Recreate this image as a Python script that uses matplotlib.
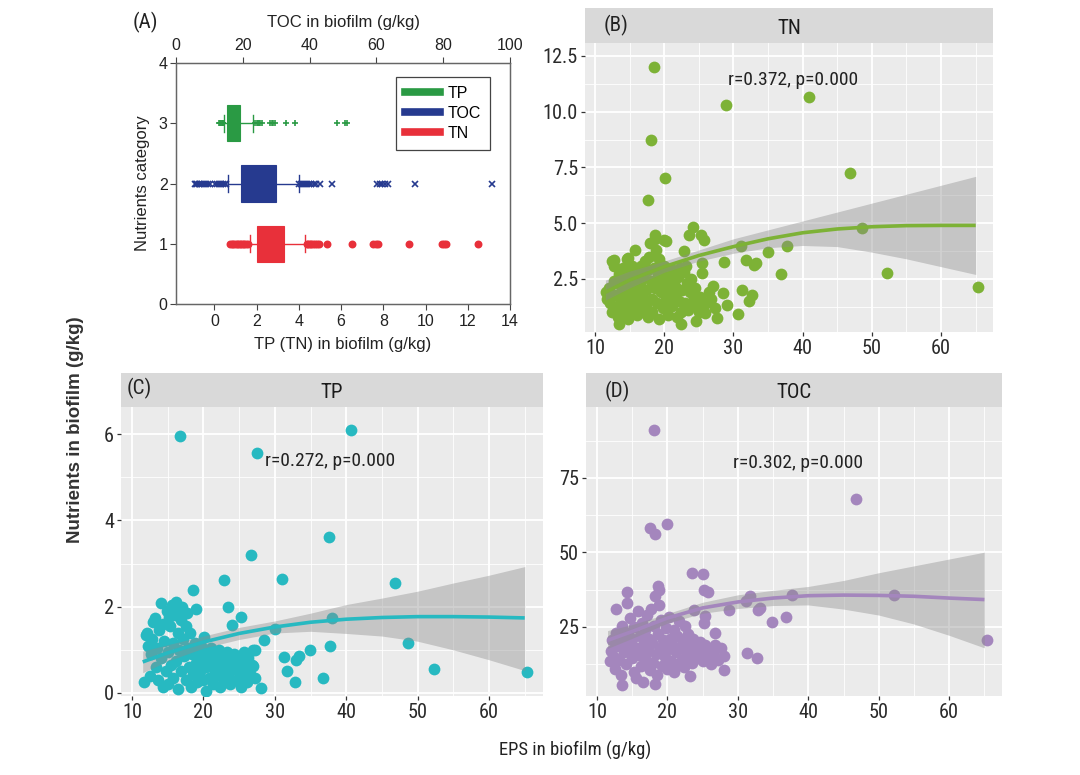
import matplotlib
matplotlib.use("Agg")
import matplotlib.pyplot as plt
from matplotlib import font_manager
from matplotlib.font_manager import FontProperties
from matplotlib.lines import Line2D

ARIAL = 'Liberation Sans'
plt.rcParams['font.family'] = [ARIAL, 'DejaVu Sans']

# look for a condensed sans font on the system
COND_PATH = None
_cands = []
for f in font_manager.fontManager.ttflist:
    low = (f.fname + ' ' + f.name).lower()
    if ('narrow' in low or 'condensed' in low) and 'bold' not in low and 'italic' not in low \
            and 'oblique' not in low and 'light' not in low and 'semi' not in low:
        _cands.append(f.fname)
for key in ['liberationsansnarrow', 'robotocondensed', 'opensans_condensed', 'opensanscondensed',
            'dejavusanscondensed', 'narrow', 'condensed']:
    hit = [c for c in _cands if key in c.lower().replace('-', '').replace(' ', '')]
    if hit:
        COND_PATH = sorted(hit, key=len)[0]
        break
SCALE = 1.12 if COND_PATH else 1.0


def fp(size):
    if COND_PATH:
        return FontProperties(fname=COND_PATH, size=size * SCALE)
    return FontProperties(family=ARIAL, size=size)


# ---------------- data ----------------
# Panel A box plot statistics (TP, TN in g/kg on bottom axis; TOC in g/kg on top axis)
categories = ['TN', 'TOC', 'TP']
cat_pos = [1, 2, 3]
tp_box = dict(q1=0.58, med=0.9, q3=1.22, whislo=0.47, whishi=1.85)
toc_box = dict(q1=19.6, med=24.5, q3=29.9, whislo=15.7, whishi=36.8)
tn_box = dict(q1=2.0, med=2.6, q3=3.31, whislo=1.69, whishi=4.31)
tp_fliers = [0.2, 0.25, 0.3, 0.35, 0.4, 0.43, 1.93, 2.0, 2.05, 2.1, 2.18, 2.24,
             2.64, 2.72, 2.8, 2.87, 3.39, 3.82, 5.79, 6.19, 6.3]
toc_fliers = [5.7, 6.0, 6.4, 6.8, 7.2, 7.7, 8.3, 9.0, 9.6, 10.1, 11.7, 12.2, 12.8,
              13.4, 14.0, 14.6, 15.1, 36.8, 37.4, 38.0, 38.6, 39.1, 39.8, 40.5,
              41.2, 42.0, 43.1, 46.6, 60.1, 61.0, 61.8, 62.7, 63.6, 71.5, 94.7]
tn_fliers = [0.74, 0.82, 0.9, 0.98, 1.05, 1.12, 1.2, 1.28, 1.35, 1.42, 1.5, 1.58,
             4.37, 4.45, 4.52, 4.6, 4.68, 4.75, 4.85, 4.95, 5.32, 6.5, 7.53, 7.65,
             7.77, 9.22, 10.76, 10.87, 10.97, 12.5]

# Panel B: (EPS, TN) samples
tn_samples = [
    (18.5, 12.02), (28.9, 10.3), (40.9, 10.65), (18.1, 8.75), (20.1, 7.04), (17.6, 6.05),
    (46.85, 7.23), (52.2, 2.77), (65.3, 2.14), (37.7, 3.99), (34.95, 3.69), (36.9, 2.74),
    (31.8, 3.36), (33.3, 3.21), (33.0, 3.14), (31.1, 3.96), (31.3, 2.02), (32.7, 1.76),
    (32.2, 1.53), (30.7, 0.91), (28.7, 3.26), (28.5, 1.85), (29.1, 1.31), (27.6, 0.76),
    (27.1, 2.2), (25.9, 0.98), (24.6, 0.61), (25.4, 3.21), (25.4, 2.77), (25.3, 4.48),
    (25.7, 4.26), (23.6, 4.48), (24.1, 4.85), (22.9, 3.74), (22.4, 0.46), (20.0, 4.26),
    (18.7, 4.48), (15.8, 3.81), (14.7, 3.44), (12.7, 3.36), (12.7, 3.06), (13.4, 0.46),
    (48.6, 4.8),
    (11.6, 1.9), (11.8, 1.6), (12.0, 2.1), (12.2, 1.4), (12.4, 1.0), (12.5, 3.3),
    (12.8, 2.4), (13.0, 1.8), (13.1, 1.2), (13.3, 0.8), (13.5, 2.7), (13.7, 2.2),
    (13.8, 1.5), (14.0, 3.0), (14.1, 1.0), (14.2, 2.5), (14.4, 1.9), (14.6, 3.4),
    (14.7, 1.3), (14.8, 0.7), (15.0, 2.8), (15.1, 2.2), (15.2, 1.6), (15.4, 3.1),
    (15.5, 1.1), (15.6, 2.5), (15.9, 1.9), (16.0, 0.9), (16.2, 2.9), (16.3, 1.4),
    (16.5, 2.3), (16.6, 3.1), (16.8, 1.7), (16.9, 1.0), (17.0, 2.6), (17.2, 3.3),
    (17.3, 2.0), (17.4, 1.3), (17.6, 0.8), (17.7, 2.9), (17.8, 3.5), (18.0, 4.1),
    (18.1, 2.4), (18.2, 1.6), (18.3, 1.0), (18.5, 3.0), (18.6, 4.3), (18.7, 2.1),
    (18.8, 3.8), (19.0, 1.4), (19.1, 2.7), (19.2, 0.7), (19.3, 3.4), (19.5, 1.9),
    (19.6, 2.5), (19.8, 1.2), (19.9, 3.1), (20.0, 2.2), (20.2, 1.6), (20.3, 4.2),
    (20.4, 2.8), (20.6, 0.9), (20.8, 1.9), (21.0, 2.5), (21.1, 1.3), (21.3, 2.9),
    (21.5, 1.7), (21.6, 2.2), (21.8, 0.8), (22.0, 2.6), (22.1, 1.5), (22.3, 3.0),
    (22.4, 1.0), (22.6, 2.0), (22.8, 2.8), (23.0, 1.4), (23.1, 3.1), (23.3, 2.3),
    (23.5, 1.1), (23.7, 1.9), (23.9, 2.5), (24.1, 1.5), (24.3, 1.8), (24.5, 2.1),
    (24.7, 1.3), (25.0, 1.0), (25.2, 1.7), (25.6, 1.3), (26.0, 1.4), (26.4, 1.9),
    (26.8, 1.6), (27.3, 1.2), (16.1, 2.0), (17.1, 1.5), (19.4, 2.3), (20.9, 2.0),
]

# Panel C: (EPS, TP) samples
tp_samples = [
    (16.67, 5.96), (40.7, 6.09), (27.5, 5.56), (37.6, 3.61), (26.65, 3.19), (31.0, 2.64),
    (22.9, 2.62), (46.85, 2.56), (18.5, 2.39), (23.5, 1.99), (19.0, 1.95), (25.3, 1.76),
    (38.0, 1.74), (24.0, 1.58), (30.05, 1.48), (28.5, 1.22), (48.6, 1.16), (37.7, 1.10),
    (34.9, 1.0), (27.2, 0.99), (31.3, 0.83), (33.4, 0.85), (32.9, 0.76), (31.7, 0.52),
    (52.3, 0.56), (65.3, 0.48), (36.8, 0.35), (32.8, 0.25), (28.0, 0.12), (27.0, 0.63),
    (11.7, 0.25), (12.5, 0.40), (12.1, 1.39), (13.2, 1.74), (14.0, 2.08),
    (12.0, 1.35), (12.2, 1.1), (12.6, 0.9), (12.8, 1.25), (13.0, 1.65), (13.3, 0.6),
    (13.5, 1.05), (13.7, 0.3), (13.8, 1.45), (14.1, 0.8), (14.3, 0.15), (14.4, 1.6),
    (14.5, 1.2), (14.7, 0.5), (14.9, 1.9), (15.0, 0.95), (15.1, 0.2), (15.3, 1.55),
    (15.4, 0.65), (15.6, 2.05), (15.7, 1.15), (15.8, 0.35), (16.0, 1.8), (16.1, 0.75),
    (16.2, 2.1), (16.4, 1.4), (16.5, 0.1), (16.6, 1.0), (16.8, 1.7), (16.9, 0.5),
    (17.0, 2.0), (17.2, 1.25), (17.3, 0.85), (17.5, 1.55), (17.6, 0.3), (17.7, 1.85),
    (17.9, 1.05), (18.0, 0.6), (18.1, 1.4), (18.3, 0.15), (18.4, 0.9), (18.6, 0.45),
    (18.8, 1.15), (19.0, 0.7), (19.1, 0.25), (19.3, 0.95), (19.5, 0.5), (19.7, 1.1),
    (19.9, 0.3), (20.0, 0.8), (20.1, 1.3), (20.3, 0.05), (20.4, 0.6), (20.6, 0.95),
    (20.8, 0.35), (21.0, 0.75), (21.1, 1.05), (21.3, 0.2), (21.5, 0.55), (21.6, 0.9),
    (21.8, 0.4), (22.0, 0.7), (22.2, 1.0), (22.3, 0.15), (22.5, 0.5), (22.7, 0.85),
    (22.9, 0.3), (23.1, 0.65), (23.3, 0.95), (23.5, 0.45), (23.7, 0.2), (23.9, 0.75),
    (24.1, 0.55), (24.3, 0.9), (24.5, 0.3), (24.7, 0.6), (24.9, 0.85), (25.1, 0.4),
    (25.3, 0.15), (25.5, 0.7), (25.7, 0.95), (25.9, 0.5), (26.1, 0.25), (26.3, 0.8),
    (26.5, 0.45), (26.8, 0.65), (27.2, 0.35), (27.0, 1.0), (15.2, 1.75), (16.3, 1.9),
]

# Panel D: (EPS, TOC) samples
toc_samples = [
    (18.1, 91.1), (46.8, 68.0), (20.0, 59.6), (17.5, 58.2), (18.2, 56.3), (23.5, 43.1),
    (25.0, 42.9), (18.6, 38.6), (18.8, 37.5), (25.2, 37.5), (25.7, 36.6), (31.7, 35.5),
    (31.1, 33.6), (37.65, 35.6), (52.2, 35.6), (33.2, 31.4), (32.8, 30.6), (28.7, 30.6),
    (34.9, 26.7), (36.8, 28.4), (65.3, 20.7), (31.3, 16.3), (32.7, 14.6), (28.0, 15.2),
    (28.0, 10.7), (26.7, 23.0), (23.2, 8.7), (18.2, 5.9), (13.6, 5.4), (12.7, 31.0),
    (14.3, 36.6), (25.4, 28.6), (25.2, 26.3), (23.8, 30.8),
    (11.8, 13.5), (12.0, 17.0), (12.2, 20.5), (12.4, 15.0), (12.6, 11.0), (12.7, 23.0),
    (12.9, 18.5), (13.1, 14.0), (13.3, 21.5), (13.4, 9.0), (13.6, 25.5), (13.8, 16.5),
    (14.0, 19.5), (14.1, 12.5), (14.3, 33.0), (14.4, 23.0), (14.6, 17.5), (14.7, 28.0),
    (14.9, 14.5), (15.0, 21.0), (15.2, 10.0), (15.3, 25.0), (15.5, 18.0), (15.6, 8.0),
    (15.8, 30.5), (15.9, 15.5), (16.1, 22.0), (16.2, 12.0), (16.4, 26.5), (16.5, 19.0),
    (16.6, 6.5), (16.8, 24.0), (16.9, 14.0), (17.1, 29.0), (17.2, 17.0), (17.4, 21.0),
    (17.5, 10.5), (17.7, 31.0), (17.8, 19.5), (18.0, 13.0), (18.1, 25.5), (18.3, 35.5),
    (18.4, 16.0), (18.5, 9.0), (18.7, 22.5), (18.8, 32.5), (19.0, 18.0), (19.1, 27.5),
    (19.3, 12.0), (19.4, 20.5), (19.6, 15.0), (19.8, 24.5), (19.9, 11.0), (20.1, 17.5),
    (20.2, 28.5), (20.4, 21.0), (20.5, 13.5), (20.7, 19.0), (20.9, 24.0), (21.0, 10.0),
    (21.2, 16.5), (21.4, 22.0), (21.5, 12.5), (21.7, 27.0), (21.9, 18.5), (22.0, 14.0),
    (22.2, 20.5), (22.4, 11.5), (22.5, 25.5), (22.7, 17.0), (22.9, 22.5), (23.1, 15.5),
    (23.3, 19.5), (23.5, 13.0), (23.7, 21.0), (23.9, 16.0), (24.1, 18.0), (24.3, 14.5),
    (24.6, 20.0), (24.8, 16.5), (25.0, 13.5), (25.3, 19.0), (25.6, 15.0), (25.9, 17.5),
    (26.2, 12.5), (26.5, 16.0), (26.8, 19.0), (27.2, 14.0), (27.6, 18.0),
]

# Smooth fits
fit_eps = [11.5, 15, 20, 25, 30, 35, 40, 45, 50, 55, 60, 65]
tn_fit = [1.9, 2.45, 3.05, 3.55, 3.95, 4.3, 4.57, 4.74, 4.84, 4.89, 4.9, 4.9]
tn_hi = [2.45, 2.85, 3.3, 3.8, 4.3, 4.7, 5.1, 5.5, 5.9, 6.3, 6.7, 7.1]
tn_lo = [1.55, 2.1, 2.8, 3.3, 3.65, 3.9, 4.0, 3.95, 3.7, 3.4, 3.05, 2.7]
tp_fit = [0.72, 0.93, 1.18, 1.38, 1.53, 1.64, 1.71, 1.75, 1.77, 1.77, 1.76, 1.74]
tp_hi = [0.97, 1.12, 1.32, 1.52, 1.67, 1.85, 2.05, 2.2, 2.36, 2.55, 2.73, 2.93]
tp_lo = [0.47, 0.74, 1.04, 1.24, 1.39, 1.43, 1.38, 1.32, 1.2, 1.0, 0.77, 0.52]
toc_fit = [20.5, 23.5, 28.0, 31.4, 33.4, 34.7, 35.5, 35.7, 35.6, 35.3, 34.7, 34.2]
toc_hi = [23.8, 25.8, 29.5, 33.3, 35.8, 37.3, 38.6, 40.6, 43.2, 45.5, 47.8, 50.1]
toc_lo = [17.8, 21.2, 26.3, 29.6, 31.2, 32.2, 32.4, 31.0, 29.0, 26.0, 22.2, 18.0]

stats_text = ['r=0.372, p=0.000', 'r=0.272, p=0.000', 'r=0.302, p=0.000']

# ---------------- figure ----------------
W, H = 1080, 775
fig = plt.figure(figsize=(W / 100, H / 100), dpi=100)


def rect(x0, y0, x1, y1):
    return [x0 / W, 1 - y1 / H, (x1 - x0) / W, (y1 - y0) / H]


# ---- Panel A ----
C_TP, C_TOC, C_TN = '#2a9a44', '#263a8f', '#e8303a'
axA = fig.add_axes(rect(176, 63, 510, 304))
axA.set_xlim(-1.815, 14)
axA.set_ylim(0, 4)
axT = axA.twiny()
axT.set_xlim(0, 100)


def draw_box(ax, st, pos, fl, color, marker, ms):
    s = dict(st)
    s['fliers'] = fl
    ax.bxp([s], positions=[pos], vert=False, widths=0.6, capwidths=0.28,
           patch_artist=True, showfliers=True,
           boxprops=dict(facecolor=color, edgecolor=color, linewidth=0.8),
           medianprops=dict(color=color, linewidth=0.8),
           whiskerprops=dict(color=color, linewidth=1.0),
           capprops=dict(color=color, linewidth=1.0),
           flierprops=dict(marker=marker, markerfacecolor=color, markeredgecolor=color,
                           markersize=ms, markeredgewidth=1.2, linestyle='none'))


draw_box(axA, tn_box, cat_pos[0], tn_fliers, C_TN, 'o', 4.5)
draw_box(axT, toc_box, cat_pos[1], toc_fliers, C_TOC, 'x', 4.5)
draw_box(axA, tp_box, cat_pos[2], tp_fliers, C_TP, '+', 4)
axA.set_ylim(0, 4)
axA.set_yticks([0, 1, 2, 3, 4])
axA.set_yticklabels(['0', '1', '2', '3', '4'])
axA.set_xticks([0, 2, 4, 6, 8, 10, 12, 14])
axT.set_xticks([0, 20, 40, 60, 80, 100])
for a in (axA, axT):
    for sp in a.spines.values():
        sp.set_color('#666666')
        sp.set_linewidth(0.9)
axA.tick_params(axis='both', direction='out', length=4, width=0.8, color='#444444',
                labelsize=11.5, labelcolor='#222222', pad=3)
axA.tick_params(axis='y', pad=2)
axT.tick_params(axis='x', direction='out', length=4, width=0.8, color='#444444',
                labelsize=11.5, labelcolor='#222222', pad=3)
axA.set_xlabel('TP (TN) in biofilm (g/kg)', fontsize=12, color='#222222', labelpad=6)
axT.set_xlabel('TOC in biofilm (g/kg)', fontsize=12, color='#222222', labelpad=8)
axA.set_ylabel('Nutrients category', fontsize=12, color='#222222', labelpad=6)
handles = [Line2D([], [], color=C_TP, lw=5.5), Line2D([], [], color=C_TOC, lw=5.5),
           Line2D([], [], color=C_TN, lw=5.5)]
leg = axA.legend(handles, ['TP', 'TOC', 'TN'], loc='upper right', bbox_to_anchor=(0.94, 0.942),
                 borderaxespad=0, fancybox=False, frameon=True, edgecolor='#444444',
                 framealpha=1, prop=dict(family=ARIAL, size=11.5), handlelength=2.2,
                 borderpad=0.55, labelspacing=0.32, handletextpad=0.5)
leg.get_frame().set_linewidth(0.9)
fig.text(145 / W, 1 - 22 / H, '(A)', fontproperties=fp(13.5), ha='center', va='center',
         color='#222222')

# ---- ggplot-like panels ----
BG = '#ebebeb'
STRIP = '#d9d9d9'


def gg_panel(panel_rect, strip_rect, samples, color, fit, lo, hi, xlim, ylim,
             ymajor, yminor, ylabels, title, tag, tag_xy, stat, stat_xy):
    ax = fig.add_axes(rect(*panel_rect))
    ax.set_facecolor(BG)
    for sp in ax.spines.values():
        sp.set_visible(False)
    ax.set_xlim(*xlim)
    ax.set_ylim(*ylim)
    xs = [p[0] for p in samples]
    ys = [p[1] for p in samples]
    ax.scatter(xs, ys, s=72, color=color, linewidths=0, zorder=2)
    ax.fill_between(fit_eps, lo, hi, color='#8c8c8c', alpha=0.4, linewidth=0, zorder=3)
    ax.plot(fit_eps, fit, color=color, lw=2.6, zorder=4, solid_capstyle='butt')
    ax.set_xticks([10, 20, 30, 40, 50, 60])
    ax.set_xticks([15, 25, 35, 45, 55, 65], minor=True)
    ax.set_yticks(ymajor)
    ax.set_yticks(yminor, minor=True)
    ax.set_xticklabels(['10', '20', '30', '40', '50', '60'])
    ax.set_yticklabels(ylabels)
    ax.grid(True, which='major', color='white', linewidth=1.3, zorder=0)
    ax.grid(True, which='minor', color='white', linewidth=0.6, zorder=0)
    ax.set_axisbelow(True)
    ax.tick_params(which='major', length=3, width=0.9, color='#333333',
                   labelcolor='#2a2a2a', pad=2)
    ax.tick_params(which='minor', length=0)
    for lab in ax.get_xticklabels() + ax.get_yticklabels():
        lab.set_fontproperties(fp(13))
    ax.text(stat_xy[0], stat_xy[1], stat, fontproperties=fp(12.5), ha='center', va='center',
            color='#222222', zorder=5)
    sax = fig.add_axes(rect(*strip_rect))
    sax.set_facecolor(STRIP)
    sax.set_xticks([])
    sax.set_yticks([])
    for sp in sax.spines.values():
        sp.set_visible(False)
    sax.text(0.5, 0.42, title, fontproperties=fp(13.5), ha='center', va='center',
             color='#1a1a1a', transform=sax.transAxes)
    fig.text(tag_xy[0] / W, 1 - tag_xy[1] / H, tag, fontproperties=fp(13.5), ha='center',
             va='center', color='#222222')
    return ax


gg_panel((585, 43, 993, 332), (585, 8, 993, 43), tn_samples, '#7db236',
         tn_fit, tn_lo, tn_hi, (8.55, 67.5), (0.12, 13.08),
         [2.5, 5.0, 7.5, 10.0, 12.5], [1.25, 3.75, 6.25, 8.75, 11.25],
         ['2.5', '5.0', '7.5', '10.0', '12.5'], 'TN', '(B)', (616, 25),
         stats_text[0], (38.6, 11.4))

gg_panel((121, 407, 543, 696), (121, 373, 543, 407), tp_samples, '#27b9c1',
         tp_fit, tp_lo, tp_hi, (8.46, 67.56), (-0.07, 6.63),
         [0, 2, 4, 6], [1, 3, 5], ['0', '2', '4', '6'], 'TP', '(C)', (139, 388),
         stats_text[1], (37.8, 5.37))

gg_panel((586, 407, 1002, 696), (586, 373, 1002, 407), toc_samples, '#a486bd',
         toc_fit, toc_lo, toc_hi, (8.44, 67.5), (1.85, 98.8),
         [25, 50, 75], [12.5, 37.5, 62.5, 87.5], ['25', '50', '75'], 'TOC', '(D)', (617, 391),
         stats_text[2], (38.6, 80.0))

fig.text(75 / W, 1 - 430 / H, 'Nutrients in biofilm (g/kg)', rotation=90, fontsize=13.5,
         fontweight='bold', family=ARIAL, ha='center', va='center', color='#333333')
fig.text(575 / W, 1 - 750 / H, 'EPS in biofilm (g/kg)', fontproperties=fp(12), ha='center',
         va='center', color='#222222')

fig.savefig('out.png', dpi=100)
